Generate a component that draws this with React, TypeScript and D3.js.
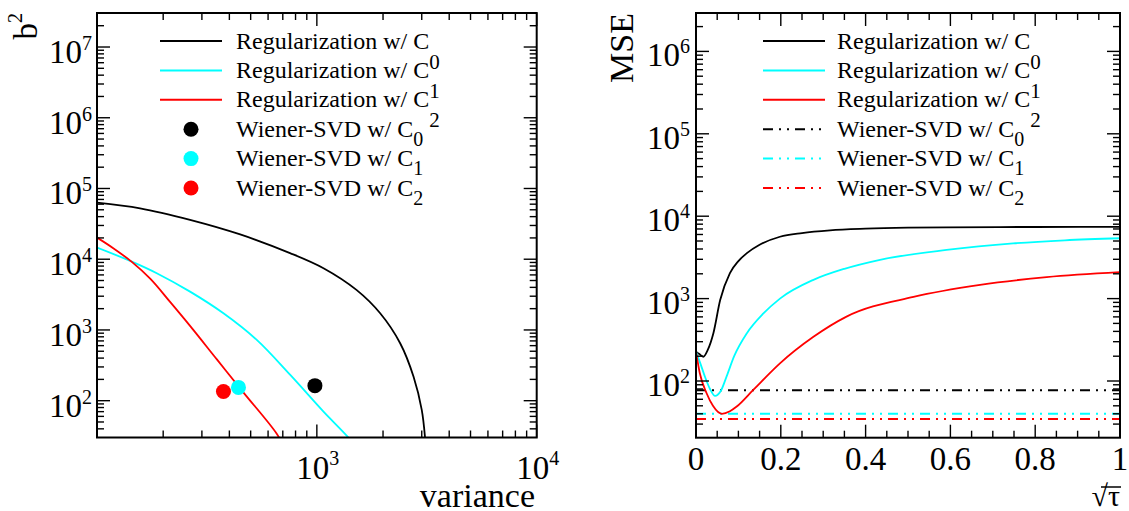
import React from "react";
import * as d3 from "d3";

// ---------- Left panel data: b^2 vs variance ----------
const regVarC0 = [100, 157, 265, 448, 755, 1072, 1514, 1941, 2393, 2754, 3000, 3105, 3130];
const regB2C0 = [63100, 52500, 36000, 22400, 12200, 7460, 3680, 1720, 649, 218, 74, 30, 20];
const regVarC1 = [100, 144, 187, 265, 376, 533, 757, 1072, 1393, 1500];
const regB2C1 = [14600, 9250, 6340, 3480, 1720, 723, 231, 70, 30, 22];
const regVarC2 = [100, 119, 144, 175, 215, 265, 351, 463, 658, 720];
const regB2C2 = [20200, 14200, 9160, 5260, 2490, 1140, 383, 131, 33.8, 20];
const wienerVar = [980, 440, 376];
const wienerB2 = [163, 154, 135];

// ---------- Right panel data: MSE vs sqrt(tau) ----------
const tauC0 = [0, 0.008, 0.017, 0.028, 0.041, 0.057, 0.08, 0.1, 0.12, 0.15, 0.198, 0.25, 0.316, 0.4, 0.5, 0.591, 0.8, 1];
const mseC0 = [227, 212, 197, 240, 380, 960, 2040, 2850, 3560, 4500, 5630, 6250, 6740, 7050, 7250, 7330, 7400, 7420];
const tauC1 = [0, 0.01, 0.021, 0.033, 0.045, 0.058, 0.072, 0.09, 0.12, 0.159, 0.198, 0.277, 0.35, 0.434, 0.591, 0.748, 0.87, 1];
const mseC1 = [227, 165, 113, 80, 66, 75, 113, 200, 380, 660, 1000, 1690, 2300, 2960, 3900, 4680, 5100, 5400];
const tauC2 = [0, 0.009, 0.025, 0.04, 0.061, 0.08, 0.096, 0.135, 0.198, 0.277, 0.355, 0.513, 0.67, 0.827, 1];
const mseC2 = [227, 124, 71, 50, 40, 43, 49, 78, 164, 344, 605, 1050, 1470, 1820, 2090];
const wienerMSE = [77, 40, 34.6];

const seriesColors = ["#000000", "#00ffff", "#ff0000"];
const legendSubs = ["0", "1", "2"];
const xTickLabelsR = [0, 0.2, 0.4, 0.6, 0.8, 1];

const FONT = "'Liberation Serif', 'Times New Roman', serif";
const DASHDOT = "10,6,2,6,2,6";

function logTicks(lo: number, hi: number) {
  const major: number[] = [];
  const minor: number[] = [];
  for (let e = Math.floor(Math.log10(lo)); e <= Math.ceil(Math.log10(hi)); e++) {
    for (let m = 1; m < 10; m++) {
      const v = m * Math.pow(10, e);
      if (v < lo * 0.999 || v > hi * 1.001) continue;
      (m === 1 ? major : minor).push(v);
    }
  }
  return { major, minor };
}

type Box = { l: number; r: number; t: number; b: number };

function Ticks({ box, xs, ys, xMaj, xMin, yMaj, yMin }: any) {
  const MJ = 13, MN = 7;
  const els: any[] = [];
  xMaj.forEach((v: number, i: number) => {
    const x = xs(v);
    els.push(<line key={"xb" + i} x1={x} x2={x} y1={box.b} y2={box.b - MJ} />);
    els.push(<line key={"xt" + i} x1={x} x2={x} y1={box.t} y2={box.t + MJ} />);
  });
  xMin.forEach((v: number, i: number) => {
    const x = xs(v);
    els.push(<line key={"xbm" + i} x1={x} x2={x} y1={box.b} y2={box.b - MN} />);
    els.push(<line key={"xtm" + i} x1={x} x2={x} y1={box.t} y2={box.t + MN} />);
  });
  yMaj.forEach((v: number, i: number) => {
    const y = ys(v);
    els.push(<line key={"yl" + i} x1={box.l} x2={box.l + MJ} y1={y} y2={y} />);
    els.push(<line key={"yr" + i} x1={box.r} x2={box.r - MJ} y1={y} y2={y} />);
  });
  yMin.forEach((v: number, i: number) => {
    const y = ys(v);
    els.push(<line key={"ylm" + i} x1={box.l} x2={box.l + MN} y1={y} y2={y} />);
    els.push(<line key={"yrm" + i} x1={box.r} x2={box.r - MN} y1={y} y2={y} />);
  });
  return <g stroke="#000" strokeWidth={1.4}>{els}</g>;
}

export default function App() {
  // Left panel
  const BL: Box = { l: 97, r: 536.7, t: 13, b: 437.5 };
  const xL = d3.scaleLog().domain([100, 10000]).range([BL.l, BL.r]);
  const yL = d3.scaleLog().domain([Math.pow(10, 2 - 36.8 / 70.7), Math.pow(10, 7 + 34 / 70.7)]).range([BL.b, BL.t]);
  // Right panel
  const BR: Box = { l: 696, r: 1120, t: 13, b: 437.7 };
  const xR = d3.scaleLinear().domain([0, 1]).range([BR.l, BR.r]);
  const yR = d3.scaleLog().domain([Math.pow(10, 2 - 56.7 / 82.4), Math.pow(10, 6 + 38.4 / 82.4)]).range([BR.b, BR.t]);

  const lineL = (xs: number[], ys: number[]) =>
    d3.line<number>().x((_, i) => xL(xs[i])).y((_, i) => yL(ys[i])).curve(d3.curveCatmullRom.alpha(0.5))(xs as any) || "";
  const lineR = (xs: number[], ys: number[]) =>
    d3.line<number>().x((_, i) => xR(xs[i])).y((_, i) => yR(ys[i])).curve(d3.curveMonotoneX)(xs as any) || "";

  const ltx = logTicks(100, 10000);
  const lty = logTicks(yL.domain()[0], yL.domain()[1]);
  const rty = logTicks(yR.domain()[0], yR.domain()[1]);
  const rxMaj = d3.range(0, 1.0001, 0.2);
  const rxMin = d3.range(0, 1.0001, 0.05).filter((v) => Math.abs(v / 0.2 - Math.round(v / 0.2)) > 1e-6);

  const regL = [
    [regVarC0, regB2C0],
    [regVarC1, regB2C1],
    [regVarC2, regB2C2],
  ];
  const regR = [
    [tauC0, mseC0],
    [tauC1, mseC1],
    [tauC2, mseC2],
  ];

  const baselines = [48.5, 77.9, 107.3, 136.7, 166.1, 195.5];

  const legend = (lx0: number, lx1: number, tx: number, dots: boolean) => (
    <g fontFamily={FONT} fontSize={24}>
      {[0, 1, 2].map((i) => (
        <g key={"r" + i}>
          <line x1={lx0} x2={lx1} y1={baselines[i] - 7.5} y2={baselines[i] - 7.5} stroke={seriesColors[i]} strokeWidth={2} />
          <text x={tx} y={baselines[i]}>
            Regularization w/ C
            <tspan dy={20} fontSize={21}>{legendSubs[i]}</tspan>
          </text>
        </g>
      ))}
      {[0, 1, 2].map((i) => (
        <g key={"w" + i}>
          {dots ? (
            <circle cx={(lx0 + lx1) / 2} cy={baselines[i + 3] - 7.5} r={7.5} fill={seriesColors[i]} />
          ) : (
            <line x1={lx0} x2={lx1} y1={baselines[i + 3] - 7.5} y2={baselines[i + 3] - 7.5} stroke={seriesColors[i]} strokeWidth={2} strokeDasharray={DASHDOT} />
          )}
          <text x={tx} y={baselines[i + 3]}>
            Wiener-SVD w/ C
            <tspan dy={9} fontSize={20}>{legendSubs[i]}</tspan>
          </text>
        </g>
      ))}
    </g>
  );

  return (
    <svg width={1129} height={511} style={{ position: "absolute", left: 0, top: 0, background: "#fff" }}>
      <defs>
        <clipPath id="clipL">
          <rect x={BL.l} y={BL.t} width={BL.r - BL.l} height={BL.b - BL.t} />
        </clipPath>
        <clipPath id="clipR">
          <rect x={BR.l} y={BR.t} width={BR.r - BR.l} height={BR.b - BR.t} />
        </clipPath>
      </defs>
      <rect width={1129} height={511} fill="#fff" />

      {/* ---------- Left panel ---------- */}
      <g clipPath="url(#clipL)">
        {regL.map(([xs, ys], i) => (
          <path key={i} d={lineL(xs, ys)} fill="none" stroke={seriesColors[i]} strokeWidth={1.8} />
        ))}
        {wienerVar.map((v, i) => (
          <circle key={i} cx={xL(v)} cy={yL(wienerB2[i])} r={7.5} fill={seriesColors[i]} />
        ))}
      </g>
      <Ticks box={BL} xs={xL} ys={yL} xMaj={ltx.major} xMin={ltx.minor} yMaj={lty.major} yMin={lty.minor} />
      <rect x={BL.l} y={BL.t} width={BL.r - BL.l} height={BL.b - BL.t} fill="none" stroke="#000" strokeWidth={2} />
      <g fontFamily={FONT} fontSize={33}>
        {lty.major.map((v, i) => (
          <text key={i} x={92} y={yL(v) + 16} textAnchor="end">
            10<tspan dy={-13} fontSize={20}>{Math.round(Math.log10(v))}</tspan>
          </text>
        ))}
        {ltx.major.filter((v) => v >= 1000).map((v, i) => (
          <text key={i} x={xL(v) + 1} y={479} textAnchor="middle">
            10<tspan dy={-14} fontSize={20}>{Math.round(Math.log10(v))}</tspan>
          </text>
        ))}
      </g>
      <text x={535} y={507} textAnchor="end" fontFamily={FONT} fontSize={34}>variance</text>
      <text transform="translate(37,13) rotate(-90)" textAnchor="end" fontFamily={FONT} fontSize={33}>
        b<tspan dy={-15} fontSize={20}>2</tspan>
      </text>
      {legend(160, 222, 236, true)}

      {/* ---------- Right panel ---------- */}
      <g clipPath="url(#clipR)">
        {wienerMSE.map((v, i) => (
          <line key={"w" + i} x1={xR(0)} x2={xR(1)} y1={yR(v)} y2={yR(v)} stroke={seriesColors[i]} strokeWidth={2} strokeDasharray={DASHDOT} />
        ))}
        {regR.map(([xs, ys], i) => (
          <path key={i} d={lineR(xs, ys)} fill="none" stroke={seriesColors[i]} strokeWidth={1.8} />
        ))}
      </g>
      <Ticks box={BR} xs={xR} ys={yR} xMaj={rxMaj} xMin={rxMin} yMaj={rty.major} yMin={rty.minor} />
      <rect x={BR.l} y={BR.t} width={BR.r - BR.l} height={BR.b - BR.t} fill="none" stroke="#000" strokeWidth={2} />
      <g fontFamily={FONT} fontSize={33}>
        {rty.major.map((v, i) => (
          <text key={i} x={690} y={yR(v) + 15} textAnchor="end">
            10<tspan dy={-13} fontSize={20}>{Math.round(Math.log10(v))}</tspan>
          </text>
        ))}
        {xTickLabelsR.map((v, i) => (
          <text key={i} x={xR(v)} y={470} textAnchor="middle">{String(v)}</text>
        ))}
      </g>
      <text transform="translate(633,13) rotate(-90)" textAnchor="end" fontFamily={FONT} fontSize={34}>MSE</text>
      <g fontFamily={FONT} fontSize={30}>
        <text x={1120} y={506} textAnchor="end">√τ</text>
        <line x1={1101} x2={1121} y1={487} y2={487} stroke="#000" strokeWidth={1.5} />
      </g>
      {legend(763, 825, 837, false)}
    </svg>
  );
}
